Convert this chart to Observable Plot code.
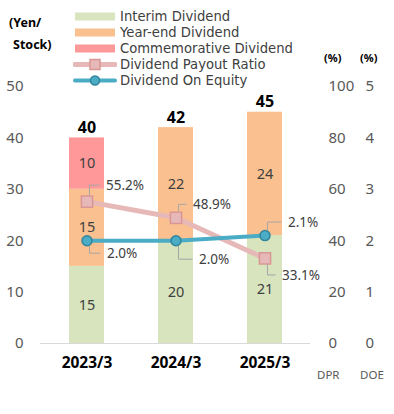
<!DOCTYPE html>
<html><head><meta charset="utf-8">
<script src="https://cdn.jsdelivr.net/npm/d3@7"></script>
<script src="https://cdn.jsdelivr.net/npm/@observablehq/plot@0.6"></script>
<style>
body{margin:0;background:#fff;font-family:"Noto Sans",sans-serif;}
#wrap{position:relative;width:394px;height:414px;overflow:hidden;background:#fff}
#wrap > svg{position:absolute;left:0;top:0}
.ov{position:absolute;white-space:nowrap;color:#404040;line-height:14px}
.lg{position:absolute;left:73px;height:15px;font-family:"DejaVu Sans",sans-serif;font-size:13.2px;color:#404040;white-space:nowrap;line-height:15px}
.lg svg{vertical-align:top;margin-right:3px}
.hdr{position:absolute;font-weight:bold;color:#000;white-space:nowrap;line-height:15px}
[aria-label="x-axis tick label"] text{font-weight:bold}
</style></head><body><div id="wrap"></div>
<script>
// ---- data ----
const categories = ["2023/3", "2024/3", "2025/3"];
const interim = [15, 20, 21];
const yearEnd = [15, 22, 24];
const commemorative = [10, 0, 0];
const totals = [40, 42, 45];
const payoutRatio = [55.2, 48.9, 33.1];   // %
const doe = [2.0, 2.0, 2.1];              // %
const leftTicks = [0, 10, 20, 30, 40, 50];
const dprTicks = [0, 20, 40, 60, 80, 100];
const doeTicks = [0, 1, 2, 3, 4, 5];
const seriesNames = ["Interim Dividend", "Year-end Dividend", "Commemorative Dividend"];
const lineNames = ["Dividend Payout Ratio", "Dividend On Equity"];

// ---- styles / layout ----
const barColors = ["#D7E4BD", "#FAC090", "#FF9999"];
const dprColor = "#E6B9B8", dprStroke = "#D99694";
const doeColor = "#4BACC6", doeStroke = "#31859C";
const dprOffsets = [[19, -16], [17, -13], [17, 17]];
const doeOffsets = [[20, 13], [23, 19], [23, -13]];

const bars = categories.flatMap((c, i) => [
  {cat: c, type: seriesNames[0], v: interim[i]},
  {cat: c, type: seriesNames[1], v: yearEnd[i]},
  {cat: c, type: seriesNames[2], v: commemorative[i]}
]);
const totalData = categories.map((c, i) => ({cat: c, v: totals[i]}));
const dprData = categories.map((c, i) => ({cat: c, v: payoutRatio[i]}));
const doeData = categories.map((c, i) => ({cat: c, v: doe[i]}));
const dprY = d => d.v / (dprTicks[dprTicks.length - 1] / leftTicks[leftTicks.length - 1]);
const doeY = d => d.v * (leftTicks[leftTicks.length - 1] / doeTicks[doeTicks.length - 1]);

function leaders(data, yAcc, offsets, half) {
  return Plot.dot(data, {x: "cat", y: yAcc, r: 0,
    render(index, scales, values) {
      const bw = scales.x && scales.x.bandwidth ? scales.x.bandwidth() / 2 : 0;
      const g = d3.create("svg:g");
      for (const i of index) {
        const x = values.x[i] + bw, y = values.y[i];
        const [dx, dy] = offsets[i];
        const s = Math.sign(dy);
        g.append("path")
          .attr("d", `M${x + 3},${y + s * half}V${y + dy}H${x + dx - 6}`)
          .attr("fill", "none").attr("stroke", "#A6A6A6").attr("stroke-width", 1);
      }
      return g.node();
    }});
}
function pointLabels(data, yAcc, offsets) {
  return data.map((d, i) => Plot.text([d], {
    x: "cat", y: yAcc, text: e => e.v.toFixed(1) + "%",
    dx: offsets[i][0], dy: offsets[i][1], textAnchor: "start",
    fontSize: 13.5, fill: "#404040"
  }));
}

const chart = Plot.plot({
  width: 394, height: 414,
  marginLeft: 40, marginRight: 84, marginTop: 86, marginBottom: 71,
  style: {fontFamily: "Noto Sans", fontSize: "14px", color: "#404040", background: "transparent"},
  x: {domain: categories, paddingInner: 0.611, paddingOuter: 0.3056, align: 0.5},
  y: {domain: [0, 50]},
  color: {domain: seriesNames, range: barColors},
  marks: [
    Plot.ruleY([0], {stroke: "#D9D9D9", strokeWidth: 1}),
    Plot.barY(bars, {x: "cat", y: "v", fill: "type", order: seriesNames}),
    Plot.text(bars.filter(d => d.v > 0), Plot.stackY({x: "cat", y: "v", z: "type", order: seriesNames, text: "v", fill: "#404040", fontSize: 14.5})),
    Plot.text(totalData, {x: "cat", y: "v", text: "v", dy: -10, fontWeight: "bold", fontSize: 16, fill: "#000"}),
    Plot.line(dprData, {x: "cat", y: dprY, stroke: dprColor, strokeWidth: 5}),
    Plot.line(doeData, {x: "cat", y: doeY, stroke: doeColor, strokeWidth: 4}),
    leaders(dprData, dprY, dprOffsets, 6),
    leaders(doeData, doeY, doeOffsets, 5),
    Plot.dot(dprData, {x: "cat", y: dprY, symbol: "square", r: 6.3, fill: dprColor, stroke: dprStroke, strokeWidth: 1.5}),
    Plot.dot(doeData, {x: "cat", y: doeY, r: 5, fill: doeColor, stroke: doeStroke, strokeWidth: 1.5}),
    ...pointLabels(dprData, dprY, dprOffsets),
    ...pointLabels(doeData, doeY, doeOffsets),
    Plot.axisY(leftTicks, {anchor: "left", tickSize: 0, tickPadding: 17, fontSize: 15, fill: "#595959", label: null}),
    Plot.axisY(leftTicks, {anchor: "right", tickSize: 0, tickPadding: 18, fontSize: 15, fill: "#595959", label: null,
      tickFormat: d => dprTicks[leftTicks.indexOf(d)]}),
    Plot.axisY(leftTicks, {anchor: "right", tickSize: 0, tickPadding: 55, fontSize: 15, fill: "#595959", label: null,
      tickFormat: d => doeTicks[leftTicks.indexOf(d)]}),
    Plot.axisX({tickSize: 0, tickPadding: 13, fontSize: 15.5, fontWeight: "bold", fill: "#000", label: null})
  ]
});
const wrap = document.getElementById("wrap");
wrap.appendChild(chart);

// headers
function addDiv(cls, html, style) {
  const d = document.createElement("div");
  d.className = cls; d.innerHTML = html; Object.assign(d.style, style);
  wrap.appendChild(d); return d;
}
addDiv("hdr", "(Yen/", {left: "9px", top: "15px", fontSize: "12.5px"});
addDiv("hdr", "Stock)", {left: "13px", top: "37px", fontSize: "12.5px"});
addDiv("hdr", "(%)", {left: "324px", top: "50px", fontSize: "11px"});
addDiv("hdr", "(%)", {left: "360px", top: "50px", fontSize: "11px"});
addDiv("ov", "DPR", {left: "317px", top: "368px", fontSize: "11.5px", color: "#595959"});
addDiv("ov", "DOE", {left: "360px", top: "368px", fontSize: "11.5px", color: "#595959"});

// legend
const rowY = [9, 25, 41, 57, 73];
seriesNames.forEach((n, i) => {
  addDiv("lg", `<svg width="44" height="15"><rect x="2" y="3.5" width="40" height="8" fill="${barColors[i]}"/></svg>${n}`, {top: rowY[i] + "px"});
});
addDiv("lg", `<svg width="44" height="15"><line x1="2" x2="42" y1="7.5" y2="7.5" stroke="${dprColor}" stroke-width="5" stroke-linecap="round"/><rect x="17" y="2.5" width="10" height="10" fill="${dprColor}" stroke="${dprStroke}" stroke-width="1.5"/></svg>${lineNames[0]}`, {top: rowY[3] + "px"});
addDiv("lg", `<svg width="44" height="15"><line x1="2" x2="42" y1="7.5" y2="7.5" stroke="${doeColor}" stroke-width="4" stroke-linecap="round"/><circle cx="22" cy="7.5" r="4.5" fill="${doeColor}" stroke="${doeStroke}" stroke-width="1.5"/></svg>${lineNames[1]}`, {top: rowY[4] + "px"});
</script></body></html>
